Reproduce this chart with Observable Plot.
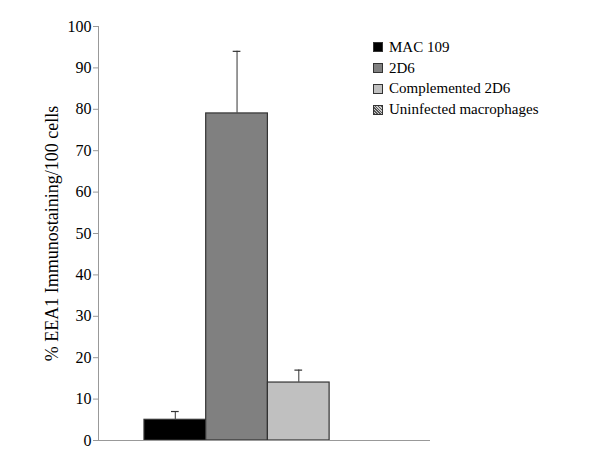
<!DOCTYPE html>
<html>
<head>
<meta charset="utf-8">
<script src="https://cdn.jsdelivr.net/npm/d3@7"></script>
<script src="https://cdn.jsdelivr.net/npm/@observablehq/plot@0.6"></script>
<style>
  html, body { margin: 0; padding: 0; background: #fff; }
  #wrap { position: relative; width: 600px; height: 469px; }
  #legend { position: absolute; left: 373px; top: 37px; font-family: "Liberation Serif", "Times New Roman", serif; font-size: 15px; color: #000; }
  .item { display: flex; align-items: center; height: 20.8px; }
  .sw { width: 10px; height: 10px; margin-right: 6px; box-sizing: border-box; border: 1px solid #333; }
</style>
</head>
<body>
<div id="wrap"><div id="legend"></div></div>
<script>
const series = ["MAC 109", "2D6", "Complemented 2D6", "Uninfected macrophages"];
const values = [5, 79, 14, 0];
const errors = [2, 15, 3, 0];
const colors = ["#000000", "#808080", "#c0c0c0", "#9a9a9a"];
const yTicks = [0, 10, 20, 30, 40, 50, 60, 70, 80, 90, 100];

const data = series.map((s, i) => ({series: s, value: values[i], top: values[i] + errors[i], err: errors[i]}));
const withErr = data.filter(d => d.err > 0);

const chart = Plot.plot({
  width: 600,
  height: 469,
  marginLeft: 98,
  marginRight: 170,
  marginTop: 26,
  marginBottom: 29,
  style: {fontFamily: "'Liberation Serif', 'Times New Roman', serif", fontSize: "16px", color: "#000", background: "#fff"},
  x: {domain: series, paddingInner: 0, paddingOuter: 0.69, align: 0.54, round: false, axis: null},
  y: {domain: [0, 100], ticks: yTicks, label: null},
  color: {domain: series, range: colors},
  marks: [
    Plot.frame({anchor: "left", stroke: "#999"}),
    Plot.barY(data, {x: "series", y: "value", fill: "series", stroke: "#333", strokeWidth: 1.2}),
    Plot.ruleX(withErr, {x: "series", y1: "value", y2: "top", stroke: "#555", strokeWidth: 1.2}),
    Plot.tickY(withErr, {x: "series", y: "top", stroke: "#333", strokeWidth: 1.2, insetLeft: 27, insetRight: 27}),
    Plot.ruleY([0], {stroke: "#999"}),
    Plot.axisY({ticks: yTicks, tickSize: 5, tickPadding: 2, stroke: "#999", fill: "#000", fontSize: 16, label: null, tickFormat: d => d}),
    Plot.text(["% EEA1 Immunostaining/100 cells"], {frameAnchor: "left", textAnchor: "middle", rotate: -90, dx: -46, fontSize: 18, fill: "#000"})
  ]
});
document.getElementById("wrap").prepend(chart);

const leg = document.getElementById("legend");
series.forEach((s, i) => {
  const it = document.createElement("div");
  it.className = "item";
  const sw = document.createElement("span");
  sw.className = "sw";
  if (i === 3) {
    sw.style.background = "repeating-linear-gradient(45deg, #555 0 1px, #ccc 1px 2px)";
  } else {
    sw.style.background = colors[i];
  }
  it.appendChild(sw);
  it.appendChild(document.createTextNode(s));
  leg.appendChild(it);
});
</script>
</body>
</html>
